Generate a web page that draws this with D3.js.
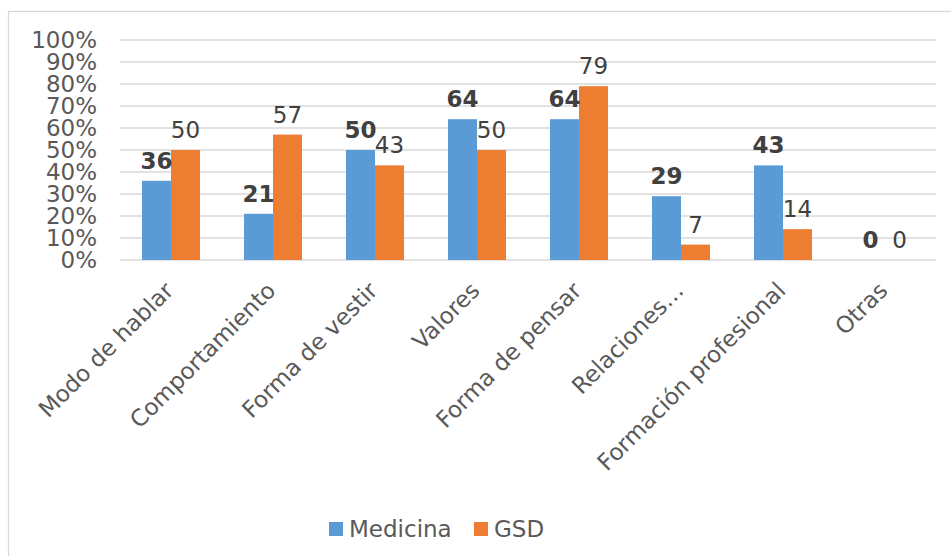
<!DOCTYPE html>
<html>
<head>
<meta charset="utf-8">
<script src="https://cdn.jsdelivr.net/npm/d3@7"></script>
<style>
  html, body { margin: 0; padding: 0; background: #fff; }
  svg { display: block; font-family: "DejaVu Sans", Verdana, sans-serif; }
</style>
</head>
<body>
<svg id="chart" width="951" height="556"></svg>
<script>
// Category names and the two series (percent values)
const categories = ["Modo de hablar", "Comportamiento", "Forma de vestir", "Valores",
                    "Forma de pensar", "Relaciones…", "Formación profesional", "Otras"];
const medicina = [36, 21, 50, 64, 64, 29, 43, 0];
const gsd = [50, 57, 43, 50, 79, 7, 14, 0];
const seriesNames = ["Medicina", "GSD"];
const yTicks = [0, 10, 20, 30, 40, 50, 60, 70, 80, 90, 100];

const colors = { Medicina: "#5B9BD5", GSD: "#ED7D31" };
const fontSize = 23;

const svg = d3.select("#chart");
const plot = { left: 120, right: 936, top: 40, bottom: 260 };

// outer chart frame (only top and left edges fall inside the view)
svg.append("rect")
  .attr("x", 8.5).attr("y", 11.5)
  .attr("width", 1200).attr("height", 1200)
  .attr("fill", "#fff").attr("stroke", "#d9d9d9").attr("stroke-width", 1.3);

const x = d3.scaleBand().domain(categories).range([plot.left, plot.right]);
const y = d3.scaleLinear().domain([0, 100]).range([plot.bottom, plot.top]);
const barW = 29;
const xs = d3.scaleBand().domain(seriesNames)
  .range([x.bandwidth() / 2 - barW, x.bandwidth() / 2 + barW]);

// horizontal gridlines
svg.append("g").selectAll("line").data(yTicks).join("line")
  .attr("x1", plot.left).attr("x2", plot.right)
  .attr("y1", d => y(d)).attr("y2", d => y(d))
  .attr("stroke", "#d9d9d9").attr("stroke-width", 1.5);

// y axis labels
const yAxis = d3.axisLeft(y).tickValues(yTicks).tickFormat(d => d + "%").tickSize(0).tickPadding(0);
const gy = svg.append("g").attr("transform", `translate(97,0)`).call(yAxis);
gy.select(".domain").remove();
gy.selectAll("text").attr("font-size", fontSize).attr("fill", "#595959")
  .attr("font-family", "DejaVu Sans, Verdana, sans-serif");

// bars
const rows = categories.map((c, i) => ({ cat: c, Medicina: medicina[i], GSD: gsd[i] }));
const groups = svg.append("g").selectAll("g").data(rows).join("g")
  .attr("transform", d => `translate(${x(d.cat)},0)`);

groups.selectAll("rect").data(d => seriesNames.map(s => ({ s, v: d[s] }))).join("rect")
  .attr("x", d => xs(d.s)).attr("width", xs.bandwidth())
  .attr("y", d => y(d.v)).attr("height", d => y(0) - y(d.v))
  .attr("fill", d => colors[d.s]);

// value labels
groups.selectAll("text").data(d => seriesNames.map(s => ({ s, v: d[s] }))).join("text")
  .attr("x", d => xs(d.s) + xs.bandwidth() / 2)
  .attr("y", d => y(d.v) - 12)
  .attr("text-anchor", "middle")
  .attr("font-size", fontSize)
  .attr("font-weight", d => d.s === "Medicina" ? "bold" : "normal")
  .attr("fill", "#404040")
  .text(d => d.v);

// category labels, rotated
const xAxis = d3.axisBottom(x).tickSize(0).tickPadding(0);
const gx = svg.append("g").attr("transform", `translate(0,${plot.bottom})`).call(xAxis);
gx.select(".domain").remove();
gx.selectAll("text")
  .attr("font-size", fontSize).attr("fill", "#595959")
  .attr("font-family", "DejaVu Sans, Verdana, sans-serif")
  .attr("text-anchor", "end")
  .attr("dy", null).attr("y", null)
  .attr("transform", "translate(4,32) rotate(-45)");

// legend
const legend = svg.append("g").attr("transform", "translate(329,522)");
const lx = [0, 145];
seriesNames.forEach((s, i) => {
  legend.append("rect").attr("x", lx[i]).attr("y", 0).attr("width", 14).attr("height", 14)
    .attr("fill", colors[s]);
  legend.append("text").attr("x", lx[i] + 20).attr("y", 15)
    .attr("font-size", fontSize).attr("fill", "#595959").text(s);
});
</script>
</body>
</html>
